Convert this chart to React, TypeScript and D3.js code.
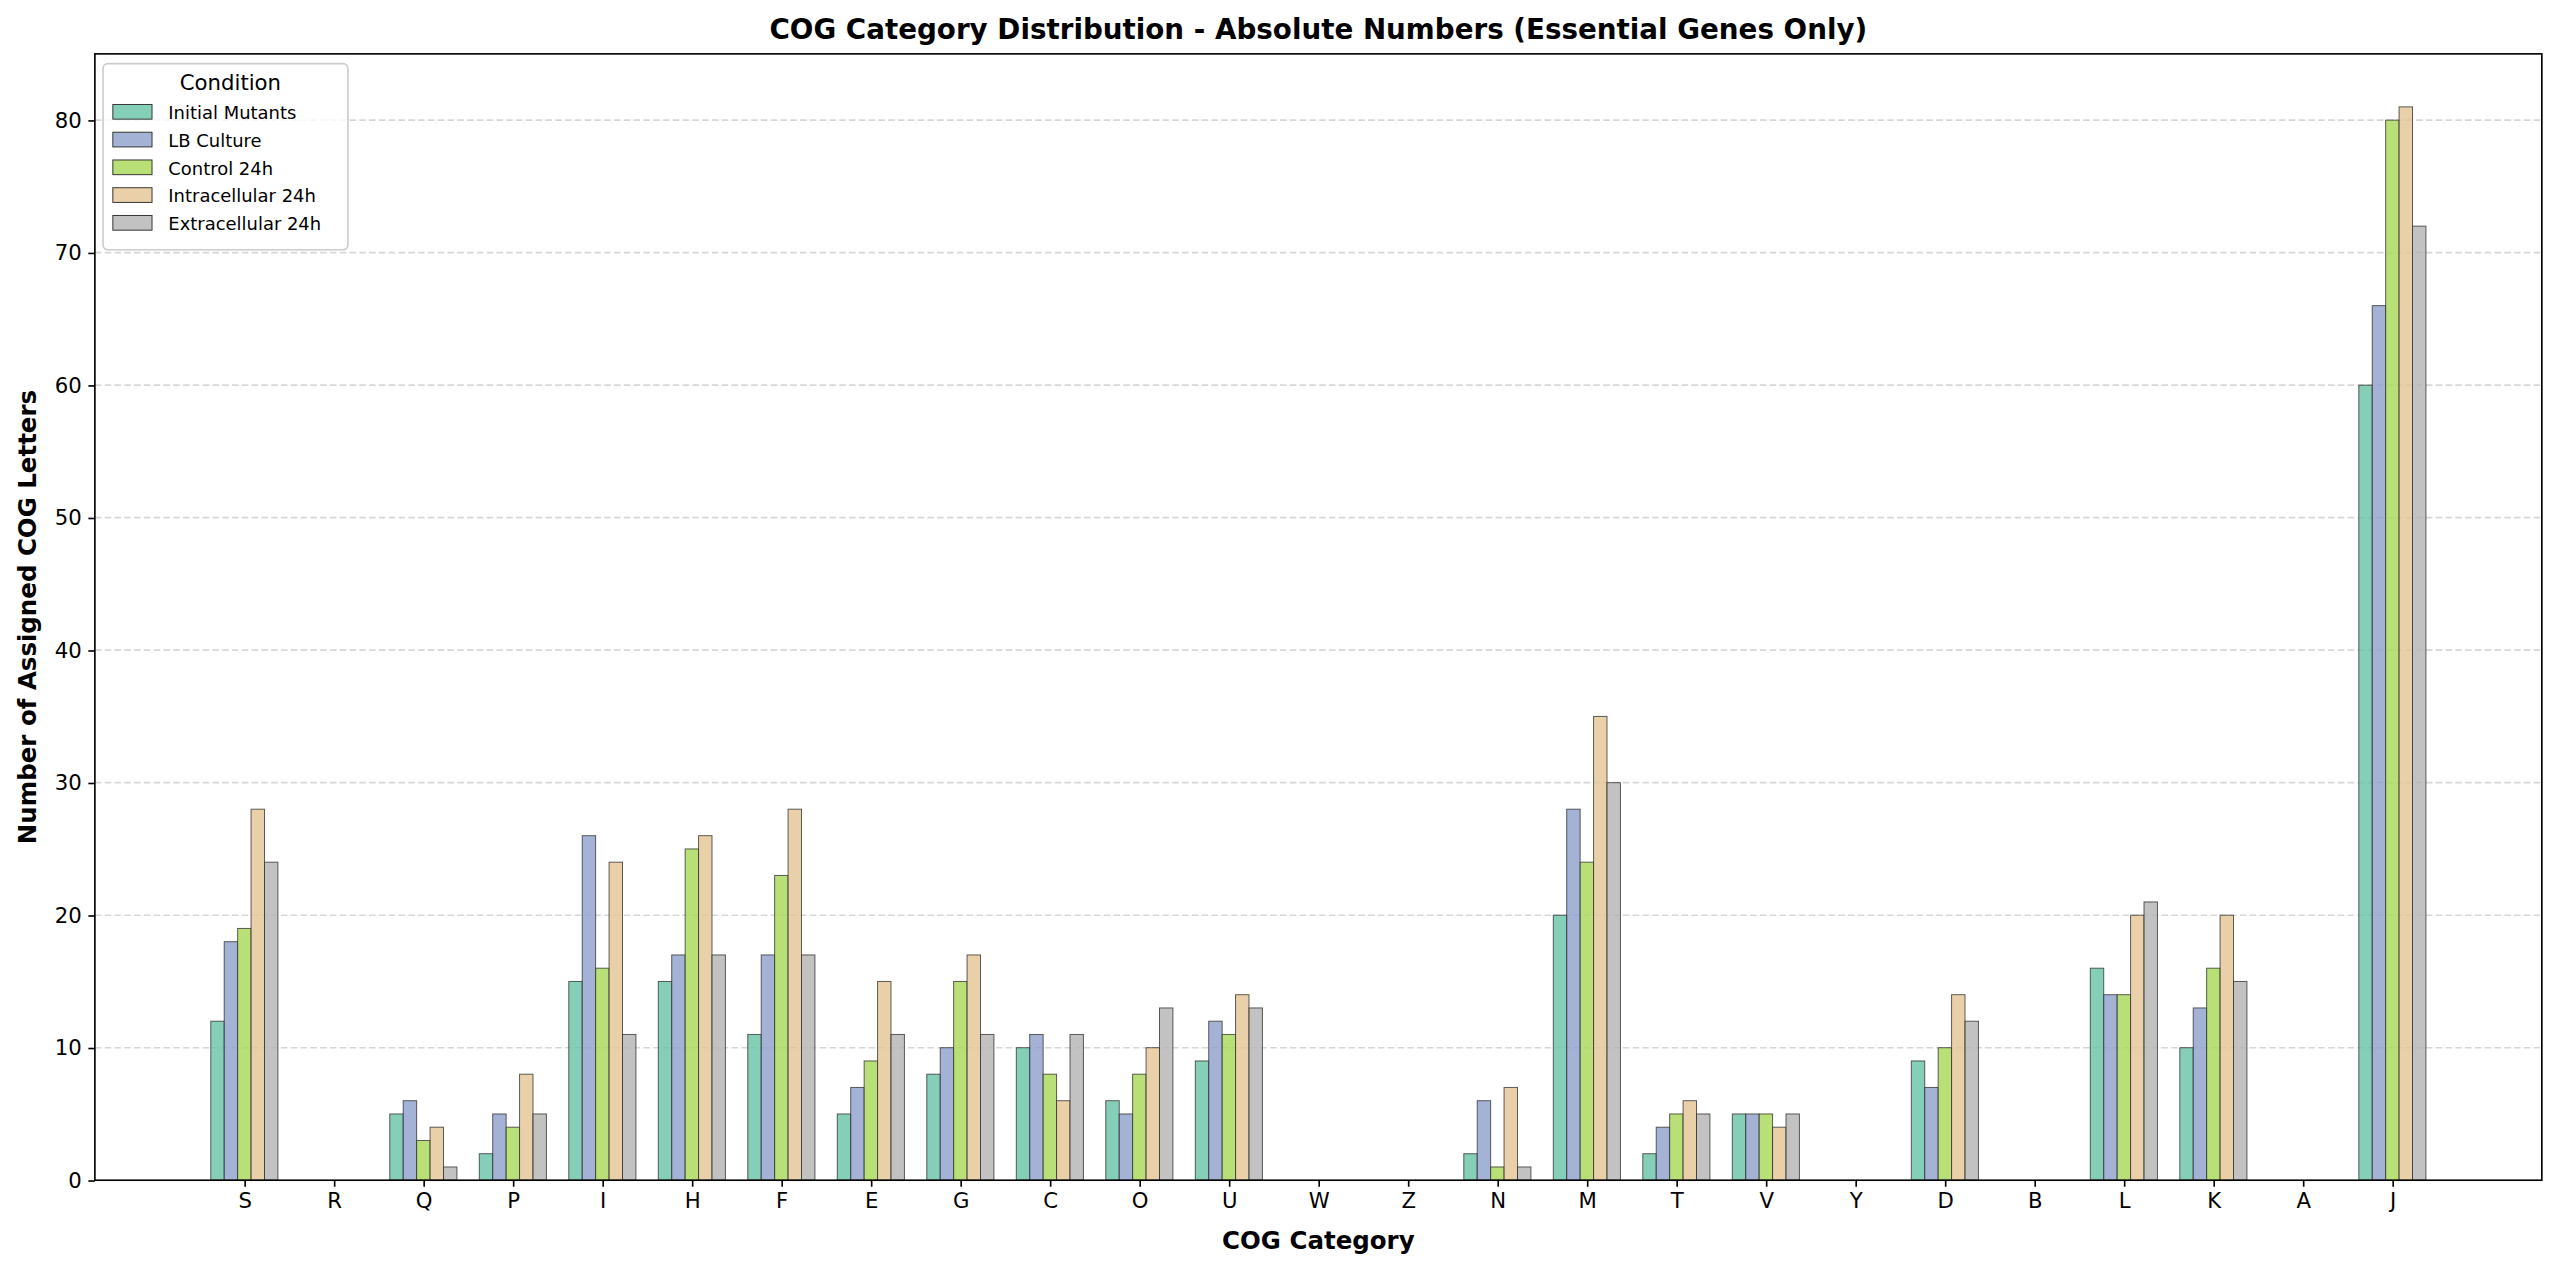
import { useEffect, useRef } from 'react';
import * as d3 from 'd3';

const categories = ['S','R','Q','P','I','H','F','E','G','C','O','U','W','Z','N','M','T','V','Y','D','B','L','K','A','J'];
const seriesNames = ['Initial Mutants', 'LB Culture', 'Control 24h', 'Intracellular 24h', 'Extracellular 24h'];
const seriesColors = ['#66c2a5', '#8da0cb', '#a6d854', '#e5c494', '#b3b3b3'];
const initialMutants = [12,0,5,2,15,15,11,5,8,10,6,9,0,0,2,20,2,5,0,9,0,16,10,0,60];
const lbCulture = [18,0,6,5,26,17,17,7,10,11,5,12,0,0,6,28,4,5,0,7,0,14,13,0,66];
const control24h = [19,0,3,4,16,25,23,9,15,8,8,11,0,0,1,24,5,5,0,10,0,14,16,0,80];
const intracellular24h = [28,0,4,8,24,26,28,15,17,6,10,14,0,0,7,35,6,4,0,14,0,20,20,0,81];
const extracellular24h = [24,0,1,5,11,17,17,11,11,11,13,13,0,0,1,30,5,5,0,12,0,21,15,0,72];
const series = [initialMutants, lbCulture, control24h, intracellular24h, extracellular24h];
const yTicks = [0,10,20,30,40,50,60,70,80];

export default function App() {
  const svgRef = useRef<SVGSVGElement>(null);

  useEffect(() => {
    if (!svgRef.current) return;
    const svg = d3.select(svgRef.current);
    svg.selectAll('*').remove();
    // drawn in a 1568x778 coordinate space, scaled up to 2560x1270
    const VW = 1568, VH = 778;
    const x0 = 58, x1 = 1557, y0 = 723, y1 = 33;
    const font = 'DejaVu Sans, sans-serif';

    const x = d3.scaleLinear().domain([-1.67, categories.length - 1 + 1.67]).range([x0, x1]);
    const y = d3.scaleLinear().domain([0, 85]).range([y0, y1]);
    const bw = 0.15;

    svg.attr('width', 2560).attr('height', 1270).attr('viewBox', `0 0 ${VW} ${VH}`);
    svg.append('rect').attr('width', VW).attr('height', VH).attr('fill', '#fff');

    // Grid
    svg.append('g').selectAll('line').data(yTicks.slice(1)).enter().append('line')
      .attr('x1', x0).attr('x2', x1).attr('y1', d => y(d)).attr('y2', d => y(d))
      .attr('stroke', '#b0b0b0').attr('stroke-opacity', 0.5).attr('stroke-dasharray', '4,2');

    // Bars
    series.forEach((vals, si) => {
      svg.append('g').selectAll('rect').data(vals).enter().append('rect')
        .attr('x', (_, i) => x(i + (si - 2) * bw - bw / 2))
        .attr('width', x(bw) - x(0))
        .attr('y', d => y(d))
        .attr('height', d => y0 - y(d))
        .attr('fill', seriesColors[si]).attr('fill-opacity', 0.8)
        .attr('stroke', '#333').attr('stroke-opacity', 0.8).attr('stroke-width', 0.6);
    });

    // Axes
    const gx = svg.append('g').attr('transform', `translate(0,${y0})`)
      .call(d3.axisBottom(x).tickValues(d3.range(categories.length)).tickFormat(i => categories[+i]).tickSize(4).tickPadding(4));
    const gy = svg.append('g').attr('transform', `translate(${x0},0)`)
      .call(d3.axisLeft(y).tickValues(yTicks).tickSize(4).tickPadding(4));
    [gx, gy].forEach(g => {
      g.select('.domain').remove();
      g.selectAll('text').attr('font-family', font).attr('font-size', 13).attr('fill', '#000');
      g.selectAll('line').attr('stroke', '#000');
    });
    svg.append('rect').attr('x', x0).attr('y', y1).attr('width', x1 - x0).attr('height', y0 - y1)
      .attr('fill', 'none').attr('stroke', '#000').attr('stroke-width', 1);

    // Labels
    svg.append('text').attr('x', (x0 + x1) / 2).attr('y', 24).attr('text-anchor', 'middle')
      .attr('font-family', font).attr('font-size', 17).attr('font-weight', 'bold')
      .text('COG Category Distribution - Absolute Numbers (Essential Genes Only)');
    svg.append('text').attr('x', (x0 + x1) / 2).attr('y', 765).attr('text-anchor', 'middle')
      .attr('font-family', font).attr('font-size', 15).attr('font-weight', 'bold').text('COG Category');
    svg.append('text').attr('transform', `translate(22,${(y0 + y1) / 2}) rotate(-90)`).attr('text-anchor', 'middle')
      .attr('font-family', font).attr('font-size', 15).attr('font-weight', 'bold').text('Number of Assigned COG Letters');

    // Legend
    const lg = svg.append('g').attr('transform', 'translate(63,39)');
    lg.append('rect').attr('width', 150).attr('height', 114).attr('rx', 3)
      .attr('fill', '#fff').attr('fill-opacity', 0.8).attr('stroke', '#ccc');
    lg.append('text').attr('x', 47).attr('y', 16)
      .attr('font-family', font).attr('font-size', 13).text('Condition');
    seriesNames.forEach((n, i) => {
      const yy = 25 + i * 17;
      lg.append('rect').attr('x', 6).attr('y', yy).attr('width', 24).attr('height', 9)
        .attr('fill', seriesColors[i]).attr('fill-opacity', 0.8).attr('stroke', '#333').attr('stroke-width', 0.6);
      lg.append('text').attr('x', 40).attr('y', yy + 9).attr('font-family', font).attr('font-size', 11).text(n);
    });
  }, []);

  return (
    <div style={{ position: 'absolute', left: 0, top: 0 }}>
      <svg ref={svgRef}></svg>
    </div>
  );
}
